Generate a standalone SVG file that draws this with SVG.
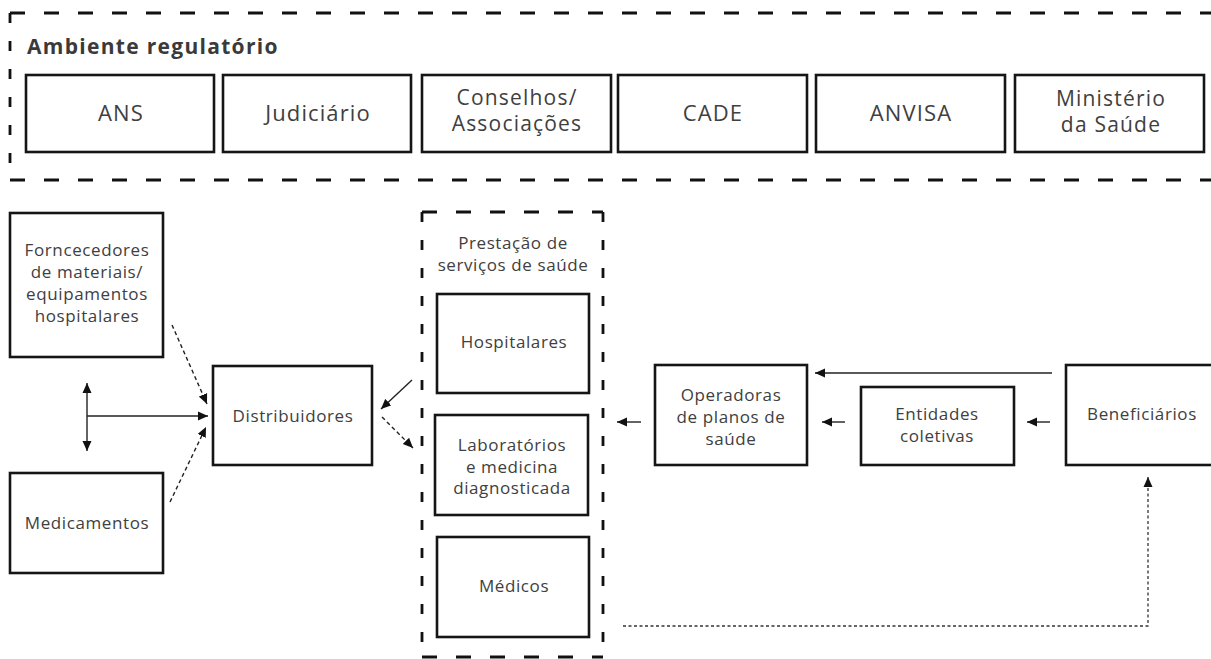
<svg xmlns="http://www.w3.org/2000/svg" width="1211" height="659" viewBox="0 0 1211 659">
<style>
  .bg{fill:#fff}
  .box{fill:#fff;stroke:#151515;stroke-width:2.6}
  .dash{fill:none;stroke:#111;stroke-width:2.8;stroke-dasharray:15 19}
  .dashv{fill:none;stroke:#111;stroke-width:2.8;stroke-dasharray:10 18}
  .t{font-family:"Open Sans","Liberation Sans",sans-serif;fill:#404040;text-anchor:middle}
  .tl{font-size:22px;letter-spacing:1.1px}
  .tl2{font-size:21px;letter-spacing:1.2px}
  .ts{font-size:17px;letter-spacing:0.6px}
  .title{font-family:"Open Sans","Liberation Sans",sans-serif;font-weight:700;font-size:21px;letter-spacing:1.3px;fill:#3a3a3a}
  .c{fill:none;stroke:#222;stroke-width:1.4}
  .cd{fill:none;stroke:#222;stroke-width:1.4;stroke-dasharray:4 3}
  .cdot{fill:none;stroke:#333;stroke-width:1.3;stroke-dasharray:3 2.5}
</style>
<defs>
  <marker id="ah" viewBox="0 0 10 10" refX="10" refY="5" markerUnits="userSpaceOnUse" markerWidth="10" markerHeight="10" orient="auto-start-reverse">
    <path d="M0,0.5 L10,5 L0,9.5 z" fill="#111"/>
  </marker>
</defs>
<rect class="bg" x="0" y="0" width="1211" height="659"/>

<g id="regulatory-frame">
  <path class="dash" d="M10,13 H1213"/>
  <path class="dash" d="M10,180 H1213"/>
  <path class="dashv" d="M10,13 V180"/>
  <text class="title" x="27" y="54">Ambiente regulatório</text>
</g>
<g id="ans"><rect class="box" x="26" y="75" width="188" height="77"/><text class="t tl" x="121" y="121">ANS</text></g>
<g id="judiciario"><rect class="box" x="223" y="75" width="188" height="77"/><text class="t tl" x="318" y="121">Judiciário</text></g>
<g id="conselhos"><rect class="box" x="422" y="75" width="189" height="77"/><text class="t tl2" x="517" y="105">Conselhos/</text><text class="t tl2" x="517" y="131">Associações</text></g>
<g id="cade"><rect class="box" x="618" y="75" width="189" height="77"/><text class="t tl" x="713" y="121">CADE</text></g>
<g id="anvisa"><rect class="box" x="816" y="75" width="189" height="77"/><text class="t tl" x="911" y="121">ANVISA</text></g>
<g id="ministerio"><rect class="box" x="1015" y="75" width="189" height="77"/><text class="t tl2" x="1111" y="106">Ministério</text><text class="t tl2" x="1111" y="132">da Saúde</text></g>

<g id="fornecedores"><rect class="box" x="10" y="213" width="153" height="144"/>
  <text class="t ts" x="87" y="256">Forncecedores</text>
  <text class="t ts" x="87" y="278">de materiais/</text>
  <text class="t ts" x="87" y="300">equipamentos</text>
  <text class="t ts" x="87" y="322">hospitalares</text></g>
<g id="medicamentos"><rect class="box" x="10" y="473" width="153" height="100"/><text class="t ts" x="87" y="529">Medicamentos</text></g>
<g id="distribuidores"><rect class="box" x="213" y="366" width="159" height="99"/><text class="t ts" x="293" y="422">Distribuidores</text></g>

<g id="prestacao">
  <path class="dash" d="M422,212 H603"/>
  <path class="dash" d="M422,657 H603"/>
  <path class="dashv" d="M422,212 V657"/>
  <path class="dashv" d="M603,212 V657"/>
  <text class="t ts" x="513" y="249">Prestação de</text>
  <text class="t ts" x="513" y="271">serviços de saúde</text>
</g>
<g id="hospitalares"><rect class="box" x="437" y="294" width="152" height="99"/><text class="t ts" x="514" y="348">Hospitalares</text></g>
<g id="laboratorios"><rect class="box" x="435" y="415" width="153" height="100"/>
  <text class="t ts" x="512" y="451">Laboratórios</text>
  <text class="t ts" x="512" y="473">e medicina</text>
  <text class="t ts" x="512" y="494">diagnosticada</text></g>
<g id="medicos"><rect class="box" x="437" y="537" width="152" height="100"/><text class="t ts" x="514" y="592">Médicos</text></g>

<g id="operadoras"><rect class="box" x="655" y="365" width="152" height="100"/>
  <text class="t ts" x="731" y="401">Operadoras</text>
  <text class="t ts" x="731" y="423">de planos de</text>
  <text class="t ts" x="731" y="445">saúde</text></g>
<g id="entidades"><rect class="box" x="861" y="387" width="153" height="78"/>
  <text class="t ts" x="937" y="420">Entidades</text>
  <text class="t ts" x="937" y="442">coletivas</text></g>
<g id="beneficiarios"><rect class="box" x="1066" y="365" width="150" height="100"/><text class="t ts" x="1142" y="420">Beneficiários</text></g>

<g id="connectors">
  <path class="c" d="M87,383 V451" marker-start="url(#ah)" marker-end="url(#ah)"/>
  <path class="c" d="M87,416 H208" marker-end="url(#ah)"/>
  <path class="cd" d="M172,325 L207,404" marker-end="url(#ah)"/>
  <path class="cd" d="M170,502 L206,427" marker-end="url(#ah)"/>
  <path class="c" d="M412,380 L381,409" marker-end="url(#ah)"/>
  <path class="cd" d="M382,417 L413,448" marker-end="url(#ah)"/>
  <path class="c" d="M1052,373 H815" marker-end="url(#ah)"/>
  <path class="c" d="M1050,422 H1027" marker-end="url(#ah)"/>
  <path class="c" d="M845,422 H822" marker-end="url(#ah)"/>
  <path class="c" d="M641,422 H617" marker-end="url(#ah)"/>
  <path class="cdot" d="M623,626 H1148 V477" marker-end="url(#ah)"/>
</g>
</svg>
